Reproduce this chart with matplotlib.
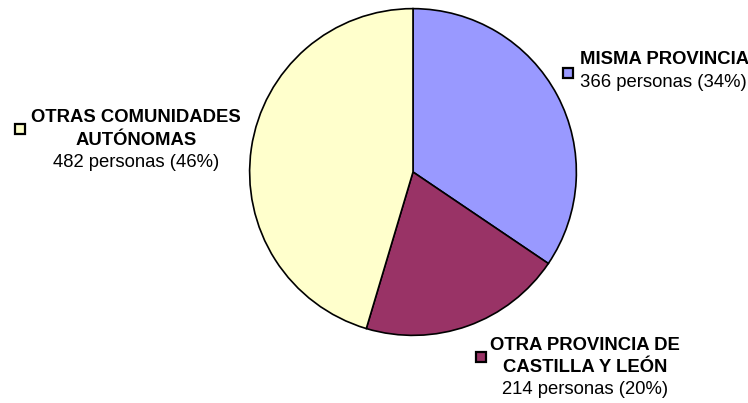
import matplotlib.pyplot as plt
from matplotlib.patches import Rectangle

plt.rcParams['font.family'] = ['Liberation Sans', 'DejaVu Sans']

categories = ['MISMA PROVINCIA', 'OTRA PROVINCIA DE\nCASTILLA Y LEÓN', 'OTRAS COMUNIDADES\nAUTÓNOMAS']
personas = [366, 214, 482]
percents = [34, 20, 46]
colors = ['#9999FF', '#993366', '#FFFFCC']

W, H = 748, 403
fig = plt.figure(figsize=(W / 100, H / 100), dpi=100)


def fx(x):
    return x / W


def fy(y):
    return 1 - y / H


# pie box in pixels: left 248, top 7, size 330
ax = fig.add_axes([fx(248), fy(337), 330 / W, 330 / H])
ax.pie(personas, colors=colors, startangle=90, counterclock=False,
       wedgeprops=dict(edgecolor='black', linewidth=1.2))
ax.set_xlim(-1.01, 1.01)
ax.set_ylim(-1.01, 1.01)
ax.set_aspect('auto')
ax.axis('off')

# label placement: (square x, square y, text x, first line y, alignment)
label_pos = [
    (563, 68, 580, 60, 'left'),
    (476, 352, 585, 345, 'center'),
    (15, 124, 136, 118, 'center'),
]

fs = 13.3
for name, n, p, col, (sx, sy, tx, ty, ha) in zip(categories, personas, percents, colors, label_pos):
    fig.patches.append(Rectangle((fx(sx), fy(sy + 10)), 10 / W, 10 / H, transform=fig.transFigure,
                                 facecolor=col, edgecolor='black', linewidth=1.6))
    lines = name.split('\n')
    y = ty
    for ln in lines:
        fig.text(fx(tx), fy(y), ln, ha=ha, va='center', fontsize=fs, fontweight='bold')
        y += 22.5
    fig.text(fx(tx), fy(y), '%d personas (%d%%)' % (n, p), ha=ha, va='center', fontsize=fs)

plt.savefig('out.png', dpi=100)
plt.close('all')
